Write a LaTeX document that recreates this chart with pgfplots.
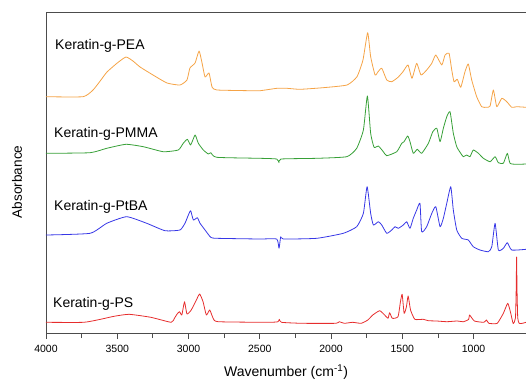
\documentclass[border=0pt]{standalone}
\usepackage{fontspec}
\setmainfont{Liberation Sans}
\usepackage{pgfplots}
\pgfplotsset{compat=1.18}
\definecolor{cPEA}{RGB}{245,163,70}
\definecolor{cPMMA}{RGB}{55,160,55}
\definecolor{cPtBA}{RGB}{55,55,230}
\definecolor{cPS}{RGB}{230,45,45}
\begin{document}
\begin{tikzpicture}
\begin{axis}[
  at={(46pt,48pt)}, anchor=south west,
  width=480pt, height=320.3pt, scale only axis,
  x dir=reverse, xmin=632, xmax=4000,
  y dir=reverse, ymin=12.7, ymax=333,
  axis x line*=box, axis y line*=left,
  xtick={1000,1500,...,4000}, minor x tick num=1,
  xtick pos=left, ytick=\empty,
  tick align=outside,
  major tick length=6pt, minor tick length=5pt,
  axis line style={line width=0.9pt, color=black!70},
  every tick/.style={black!70, line width=0.8pt},
  ticklabel style={font=\fontsize{10.5}{12}\selectfont},
  xticklabel style={yshift=-3pt},
  /pgf/number format/assume math mode=true,
  /pgf/number format/set thousands separator={},
  xlabel={Wavenumber (cm\textsuperscript{-1})},
  ylabel={Absorbance},
  every axis x label/.style={at={(axis description cs:0.5,-0.137)}, anchor=base, font=\fontsize{14}{16}\selectfont},
  every axis y label/.style={at={(axis description cs:-0.0604,0.472)}, rotate=90, anchor=center, font=\fontsize{13.6}{16}\selectfont},
  every axis plot/.append style={line width=0.8pt, line join=round, smooth, tension=0.3},
]
% PEA
\addplot[cPEA] coordinates {
(4000,96.7)(3740,96.7)(3670,90)(3620,81)(3572,72)(3500,63)(3439,57)(3390,61)(3340,67)(3249,75)(3151,83)(3060,85)(3011,80)(2990,68)(2954,63)(2926,51)(2905,63)(2884,77)(2856,73)(2835,87)(2800,90)(2568,90.7)(2498,90.7)(2379,88.3)(2309,88.3)(2218,89.3)(2056,87.7)(1888,85)(1818,76.7)(1776,60)(1743,32.7)(1722,56.7)(1691,75)(1670,71.7)(1644,68.3)(1609,80)(1574,81.7)(1530,77.3)(1495,71.7)(1460,65)(1432,78.3)(1399,63.3)(1369,75)(1329,70)(1293,63.3)(1265,55)(1223,65)(1200,55)(1172,53.3)(1153,70)(1137,81.7)(1114,79.3)(1090,87.3)(1060,71.7)(1037,64)(1013,80)(978,96.7)(943,106.7)(908,107.3)(884,106)(861,90)(837,106.7)(802,98.3)(767,101.7)(732,107.3)(697,106.7)(632,107.3)
};
% PMMA
\addplot[cPMMA] coordinates {
(4000,153.3)(3691,152.7)(3574,148.3)(3439,144.3)(3317,146.7)(3177,151.7)(3072,150)(3037,143.3)(3008,139.3)(2985,145)(2954,135)(2931,143.3)(2896,150)(2861,154)(2844,152.7)(2802,157.3)(2498,158.3)(2381,159)(2365,162.7)(2351,159)(2100,158.3)(1890,156.7)(1820,148.3)(1773,130)(1745,96)(1722,133.3)(1698,147.3)(1668,146)(1633,151.7)(1609,155.7)(1539,151.7)(1504,143.3)(1488,141.7)(1462,136)(1446,141.7)(1423,153.3)(1395,149.3)(1364,153.3)(1317,143.3)(1286,131.7)(1258,128.3)(1235,141.7)(1212,128.3)(1188,116.7)(1165,111.7)(1142,133.3)(1118,146.7)(1090,153.3)(1072,156.7)(1048,155)(1025,156.7)(1002,150)(966,153.3)(931,158.3)(884,161.7)(849,156.7)(826,162.7)(791,163.3)(763,153.3)(744,163.3)(697,164.3)(632,164)
};
% PtBA
\addplot[cPtBA] coordinates {
(4000,235)(3691,233.3)(3574,223.3)(3434,216.7)(3293,223.3)(3165,230.7)(3060,230)(3025,223.3)(3001,215)(2985,210.7)(2966,220)(2938,217.7)(2919,223.3)(2884,230)(2844,237.3)(2802,238.3)(2498,239)(2381,239)(2365,248.3)(2353,236.7)(2335,239)(2100,238.3)(1914,233.3)(1820,226.7)(1773,213.3)(1747,186.7)(1722,213.3)(1703,225)(1668,221.7)(1644,225)(1609,233.3)(1574,230)(1551,226.7)(1528,228.3)(1493,225)(1469,221.7)(1446,228.3)(1423,218.3)(1399,210)(1376,203.3)(1364,231.7)(1329,226.7)(1293,213.3)(1265,206.7)(1235,226.7)(1212,218.3)(1188,203.3)(1160,186.7)(1142,210)(1118,230)(1083,238.3)(1037,240)(1002,246.7)(955,250)(896,251.7)(872,246.7)(849,223.3)(826,250)(791,248.3)(763,242.7)(732,250)(632,249.3)
};
% PS
\addplot[cPS] coordinates {
(4000,322.3)(3736,322.3)(3618,319.3)(3523,316.3)(3417,314.3)(3264,317.3)(3122,322.3)(3099,318.3)(3080,314)(3063,311.7)(3047,315)(3028,301.7)(3011,314)(2981,310)(2945,300)(2922,294)(2898,301.7)(2875,315)(2851,310)(2827,318.3)(2792,321.7)(2438,322.3)(2372,321.7)(2363,319.3)(2348,322.3)(2202,323.3)(1966,323.3)(1943,321.7)(1907,323.3)(1848,322.3)(1789,323.3)(1742,320)(1707,315)(1659,310.7)(1624,315)(1600,318.3)(1589,312.7)(1570,318.3)(1530,316.7)(1513,301.7)(1501,294.3)(1487,313.3)(1471,306.7)(1459,296)(1442,310)(1412,319.3)(1353,319.3)(1317,320.7)(1258,321)(1188,321.7)(1117,321)(1070,321.7)(1034,319.3)(1028,315)(994,321)(928,322.3)(909,320)(893,323.3)(834,323.3)(791,313.3)(760,303.3)(739,313.3)(722,323.5)(706,318)(701,290)(698,257)(695,290)(690,318)(680,323.3)(657,323.3)(632,322.3)
};
\node[anchor=base west, font=\fontsize{14}{16}\selectfont, inner sep=0pt] at (axis cs:3937,49.3) {Keratin-g-PEA};
\node[anchor=base west, font=\fontsize{14}{16}\selectfont, inner sep=0pt] at (axis cs:3944,137.5) {Keratin-g-PMMA};
\node[anchor=base west, font=\fontsize{14}{16}\selectfont, inner sep=0pt] at (axis cs:3944,210.7) {Keratin-g-PtBA};
\node[anchor=base west, font=\fontsize{14}{16}\selectfont, inner sep=0pt] at (axis cs:3951,307.3) {Keratin-g-PS};
\end{axis}
\pgfresetboundingbox
\path (0,0) rectangle (526pt,381pt);
\end{tikzpicture}
\end{document}
